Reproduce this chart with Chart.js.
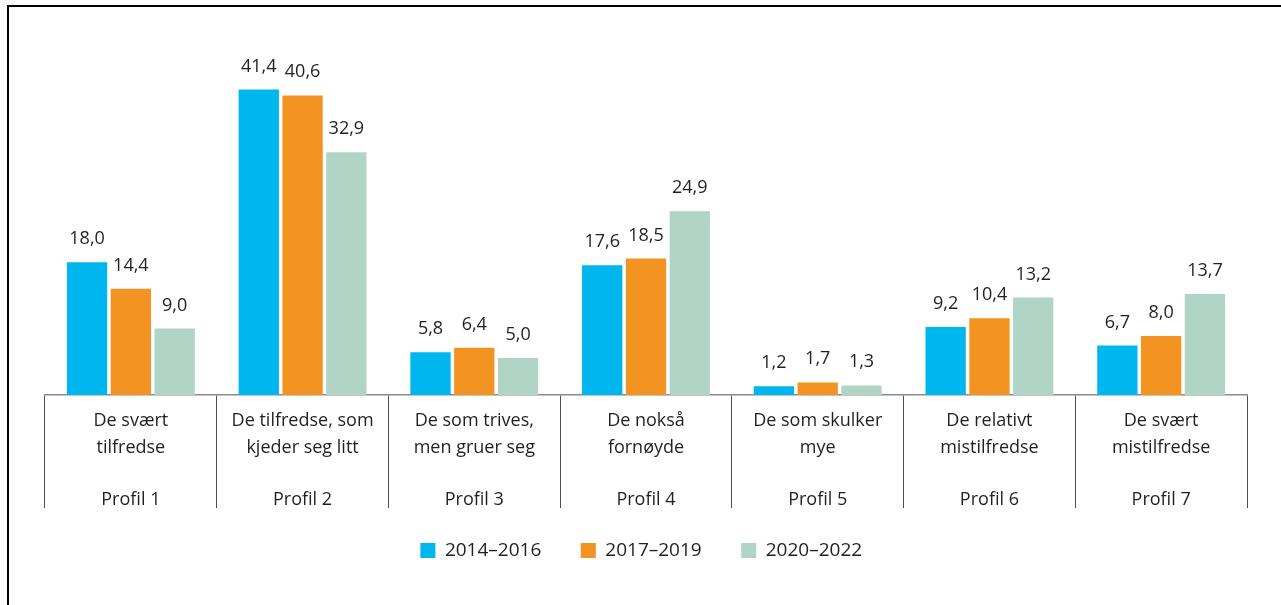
<!DOCTYPE html>
<html>
<head>
<meta charset="utf-8">
<script src="https://cdn.jsdelivr.net/npm/chart.js@4/dist/chart.umd.min.js"></script>
<style>
  html, body { margin: 0; padding: 0; background: #fff; }
  #wrap { position: relative; width: 1281px; height: 605px; overflow: hidden; }
  #frame { position: absolute; left: 7px; top: 5px; right: -10px; bottom: -10px;
           border-left: 2px solid #000; border-top: 2px solid #000; }
  canvas { position: absolute; left: 0; top: 0; }
</style>
</head>
<body>
<div id="wrap">
  <div id="frame"></div>
  <canvas id="profileChart" width="1281" height="605"></canvas>
</div>
<script>
const categories = [
    ['De svært', 'tilfredse'],
    ['De tilfredse, som', 'kjeder seg litt'],
    ['De som trives,', 'men gruer seg'],
    ['De nokså', 'fornøyde'],
    ['De som skulker', 'mye'],
    ['De relativt', 'mistilfredse'],
    ['De svært', 'mistilfredse']
];
const profiles = ['Profil 1', 'Profil 2', 'Profil 3', 'Profil 4', 'Profil 5', 'Profil 6', 'Profil 7'];
const seriesNames = ['2014–2016', '2017–2019', '2020–2022'];
const values2014 = [18.0, 41.4, 5.8, 17.6, 1.2, 9.2, 6.7];
const values2017 = [14.4, 40.6, 6.4, 18.5, 1.7, 10.4, 8.0];
const values2020 = [9.0, 32.9, 5.0, 24.9, 1.3, 13.2, 13.7];

loading();

function loading(){
    ProfileChart();
}

function ProfileChart() {
    const ctx = document.getElementById('profileChart');
    const textColor = '#231f20';
    const fontFamily = '"Open Sans", sans-serif';

    // value labels over every bar, comma decimals
    const valueLabels = {
        id: 'valueLabels',
        afterDatasetsDraw(chart) {
            const c = chart.ctx;
            c.save();
            c.font = '18px ' + fontFamily;
            c.fillStyle = textColor;
            c.textAlign = 'center';
            c.textBaseline = 'alphabetic';
            chart.data.datasets.forEach((ds, i) => {
                chart.getDatasetMeta(i).data.forEach((bar, j) => {
                    c.fillText(ds.data[j].toFixed(1).replace('.', ','), bar.x, bar.y - 18);
                });
            });
            c.restore();
        }
    };

    new Chart(ctx, {
        type: 'bar',
        data: {
            labels: categories.map((c, i) => [...c, '', profiles[i]]),
            datasets: [
                { label: seriesNames[0], data: values2014, backgroundColor: '#00b6ee' },
                { label: seriesNames[1], data: values2017, backgroundColor: '#f39322' },
                { label: seriesNames[2], data: values2020, backgroundColor: '#b0d4c6' }
            ]
        },
        options: {
            responsive: false,
            animation: false,
            categoryPercentage: 0.765,
            barPercentage: 0.92,
            layout: {
                padding: { left: 45, right: 34, top: 63, bottom: 35 }
            },
            scales: {
                x: {
                    grid: {
                        drawOnChartArea: false,
                        drawTicks: true,
                        tickLength: 113,
                        tickColor: '#4d4d4f',
                        tickWidth: 1
                    },
                    border: { display: true, color: '#8a8a8a', width: 1.5 },
                    ticks: {
                        color: textColor,
                        padding: -100,
                        maxRotation: 0,
                        autoSkip: false,
                        font: { family: fontFamily, size: 18, lineHeight: 1.46 }
                    },
                    afterFit: (scale) => { scale.height = 116; }
                },
                y: {
                    display: false,
                    min: 0,
                    max: 45
                }
            },
            plugins: {
                legend: {
                    position: 'bottom',
                    labels: {
                        boxWidth: 15,
                        boxHeight: 15,
                        padding: 30,
                        color: textColor,
                        font: { family: fontFamily, size: 19 },
                        // a little extra room after each entry
                        generateLabels: (chart) =>
                            Chart.defaults.plugins.legend.labels.generateLabels(chart)
                                .map(l => ({ ...l, text: l.text + '\u2002' }))
                    }
                },
                tooltip: { enabled: false }
            }
        },
        plugins: [valueLabels]
    });
}
</script>
</body>
</html>
